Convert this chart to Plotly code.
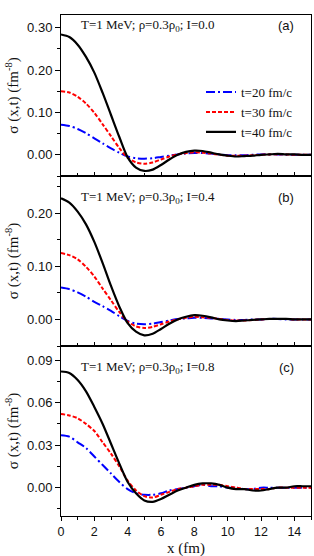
import plotly.graph_objects as go

# ---------------- data ----------------
x = [0, 0.5, 1, 1.5, 2, 2.5, 3, 3.5, 4, 4.5, 5, 5.5, 6, 6.5, 7, 7.5, 8, 8.5, 9, 9.5,
     10, 10.5, 11, 11.5, 12, 12.5, 13, 13.5, 14, 14.5, 15]

series_names = ["t=20 fm/c", "t=30 fm/c", "t=40 fm/c"]
panel_labels = ["(a)", "(b)", "(c)"]
panel_texts = ["T=1 MeV; ρ=0.3ρ<sub>0</sub>; I=0.0",
               "T=1 MeV; ρ=0.3ρ<sub>0</sub>; I=0.4",
               "T=1 MeV; ρ=0.3ρ<sub>0</sub>; I=0.8"]
x_title = "x (fm)"
y_title = "σ (x,t) (fm<sup>-8</sup>)"

# panel (a) I=0.0
a_t20 = [0.071, 0.068, 0.061, 0.051, 0.039, 0.027, 0.015, 0.005, -0.004, -0.008, -0.009, -0.008, -0.005, -0.002,
         0.001, 0.003, 0.004, 0.004, 0.003, 0.001, -0.001, -0.001, -0.001, 0.000, 0.001, 0.001, 0.001, 0.000,
         0.000, 0.000, 0.000]
a_t30 = [0.150, 0.147, 0.137, 0.121, 0.099, 0.072, 0.044, 0.016, -0.007, -0.018, -0.021, -0.018, -0.011, -0.004,
         0.001, 0.004, 0.006, 0.005, 0.003, 0.000, -0.002, -0.002, -0.002, -0.001, 0.000, 0.001, 0.001, 0.001,
         0.000, 0.000, 0.000]
a_t40 = [0.284, 0.278, 0.260, 0.231, 0.194, 0.146, 0.094, 0.042, -0.006, -0.030, -0.038, -0.035, -0.024, -0.011,
         0.000, 0.007, 0.010, 0.009, 0.005, 0.001, -0.002, -0.004, -0.003, -0.002, 0.000, 0.001, 0.002, 0.001,
         0.001, 0.000, 0.000]

# panel (b) I=0.4
b_t20 = [0.060, 0.057, 0.051, 0.043, 0.033, 0.025, 0.016, 0.006, -0.003, -0.008, -0.009, -0.008, -0.005, -0.002,
         0.001, 0.002, 0.003, 0.003, 0.002, 0.001, 0.000, -0.001, -0.001, 0.000, 0.000, 0.001, 0.001, 0.000,
         0.000, 0.000, 0.000]
b_t30 = [0.125, 0.121, 0.113, 0.099, 0.081, 0.058, 0.036, 0.014, -0.004, -0.013, -0.016, -0.014, -0.009, -0.004,
         0.000, 0.003, 0.005, 0.004, 0.003, 0.001, -0.001, -0.002, -0.002, -0.001, 0.000, 0.001, 0.001, 0.001,
         0.000, 0.000, 0.000]
b_t40 = [0.228, 0.220, 0.203, 0.179, 0.146, 0.106, 0.063, 0.024, -0.007, -0.023, -0.030, -0.027, -0.018, -0.008,
         0.000, 0.005, 0.008, 0.007, 0.004, 0.000, -0.002, -0.003, -0.002, -0.001, 0.000, 0.001, 0.001, 0.001,
         0.000, 0.000, 0.000]

# panel (c) I=0.8
c_t20 = [0.037, 0.036, 0.032, 0.028, 0.022, 0.016, 0.010, 0.004, -0.001, -0.004, -0.005, -0.005, -0.004, -0.002,
         -0.001, 0.000, 0.001, 0.002, 0.001, 0.001, 0.000, 0.000, -0.001, -0.001, 0.000, 0.000, 0.000, 0.000,
         0.000, 0.000, 0.000]
c_t30 = [0.052, 0.051, 0.049, 0.045, 0.040, 0.032, 0.024, 0.015, 0.005, -0.002, -0.006, -0.007, -0.005, -0.003,
         -0.001, 0.000, 0.001, 0.002, 0.002, 0.002, 0.001, 0.000, -0.001, -0.001, -0.001, -0.001, 0.000, 0.000,
         0.000, 0.000, 0.000]
c_t40 = [0.082, 0.081, 0.076, 0.068, 0.057, 0.045, 0.031, 0.017, 0.004, -0.004, -0.009, -0.010, -0.008, -0.005,
         -0.002, 0.000, 0.002, 0.003, 0.003, 0.002, 0.000, -0.001, -0.001, -0.002, -0.002, -0.001, 0.000, 0.000,
         0.001, 0.001, 0.001]

y_ranges = [[-0.05, 0.33], [-0.05, 0.27], [-0.02, 0.10]]
y_dticks = [0.10, 0.10, 0.03]
y_formats = [".2f", ".2f", ".2f"]
x_range = [0, 15]

# ---------------- styling ----------------
colors = ["#0000FF", "#FF0000", "#000000"]
dashes = ["9px,3px,2px,3px", "4px,2px", "solid"]
widths = [2, 2, 2.2]

panels = [[a_t20, a_t30, a_t40], [b_t20, b_t30, b_t40], [c_t20, c_t30, c_t40]]

H_TOTAL = 501.0
dom_c = [0, 170 / H_TOTAL]
dom_b = [170 / H_TOTAL, 340 / H_TOTAL]
dom_a = [340 / H_TOTAL, 1]
domains = [dom_a, dom_b, dom_c]

fig = go.Figure()
for p, series in enumerate(panels):
    xa = "x" if p == 0 else f"x{p+1}"
    ya = "y" if p == 0 else f"y{p+1}"
    for s, vals in enumerate(series):
        fig.add_trace(go.Scatter(
            x=x, y=vals, mode="lines", name=series_names[s],
            line=dict(color=colors[s], width=widths[s], dash=dashes[s], shape="spline", smoothing=0.8),
            xaxis=xa, yaxis=ya, showlegend=(p == 0),
        ))

ytickfont = dict(family="Liberation Sans, Arial", size=13, color="#111")
xtickfont = dict(family="Liberation Sans, Arial", size=12.5, color="#111")
titlefont = dict(family="Liberation Serif, Times New Roman", size=15, color="#111")

layout = dict(
    width=314, height=556,
    margin=dict(l=61, r=3, t=15, b=40, autoexpand=False),
    paper_bgcolor="white", plot_bgcolor="white",
    showlegend=True,
    legend=dict(x=0.56, y=0.876, xanchor="left", yanchor="top",
                font=dict(family="Liberation Serif, Times New Roman", size=13, color="#111"),
                bgcolor="rgba(0,0,0,0)", borderwidth=0, tracegroupgap=0, itemwidth=30),
)

for p in range(3):
    xk = "xaxis" if p == 0 else f"xaxis{p+1}"
    yk = "yaxis" if p == 0 else f"yaxis{p+1}"
    ya = "y" if p == 0 else f"y{p+1}"
    xa = "x" if p == 0 else f"x{p+1}"
    last = (p == 2)
    layout[xk] = dict(
        range=x_range, domain=[0, 1], anchor=ya,
        showline=True, linecolor="#000", linewidth=1, mirror=True,
        showgrid=False, zeroline=False,
        ticks="outside" if last else "inside", ticklen=4, tickwidth=1, tickcolor="#000",
        dtick=2, tick0=0,
        minor=dict(ticks="outside" if last else "inside", dtick=1, ticklen=3, tickcolor="#000"),
        showticklabels=last, tickfont=xtickfont, automargin=False,
    )
    layout[yk] = dict(
        range=y_ranges[p], domain=domains[p], anchor=xa,
        showline=True, linecolor="#000", linewidth=1, mirror=True,
        showgrid=False, zeroline=False,
        ticks="outside", ticklen=5, tickwidth=1, tickcolor="#000",
        dtick=y_dticks[p], tick0=0, tickformat=y_formats[p],
        minor=dict(ticks="outside", dtick=y_dticks[p] / 2, ticklen=3, tickcolor="#000"),
        tickfont=ytickfont, automargin=False,
        title=dict(text=y_title, font=titlefont, standoff=4),
    )
    # inward ticks on right side
    rk = f"yaxis{p+4}"
    layout[rk] = dict(
        range=y_ranges[p], overlaying=ya, side="right", anchor=xa,
        showline=False, showgrid=False, zeroline=False,
        ticks="inside", ticklen=5, tickwidth=1, tickcolor="#000",
        dtick=y_dticks[p], tick0=0,
        minor=dict(ticks="inside", dtick=y_dticks[p] / 2, ticklen=3, tickcolor="#000"),
        showticklabels=False,
    )

# inward ticks on top of panel (a)
layout["xaxis4"] = dict(
    range=x_range, overlaying="x", side="top", anchor="y",
    showline=False, showgrid=False, zeroline=False,
    ticks="inside", ticklen=5, tickwidth=1, tickcolor="#000",
    dtick=2, tick0=0,
    minor=dict(ticks="inside", dtick=1, ticklen=3, tickcolor="#000"),
    showticklabels=False,
)

fig.update_layout(**layout)

ann_font = dict(family="Liberation Serif, Times New Roman", size=13, color="#111")
lab_font = dict(family="Liberation Sans, Arial", size=13, color="#111")
text_y = [0.932, 0.876, 0.876]
for p in range(3):
    xd = "x domain" if p == 0 else f"x{p+1} domain"
    yd = "y domain" if p == 0 else f"y{p+1} domain"
    fig.add_annotation(text=panel_texts[p], xref=xd, yref=yd, x=0.07, y=text_y[p],
                       xanchor="left", yanchor="middle", showarrow=False, font=ann_font)
    fig.add_annotation(text=panel_labels[p], xref=xd, yref=yd, x=0.94, y=text_y[p],
                       xanchor="right", yanchor="middle", showarrow=False, font=lab_font)

# x-axis title below bottom panel
fig.add_annotation(text=x_title, xref="x3 domain", yref="paper", x=0.5, y=-0.0445,
                   xanchor="center", yanchor="top", showarrow=False, font=titlefont)

fig.write_html("out.html")
